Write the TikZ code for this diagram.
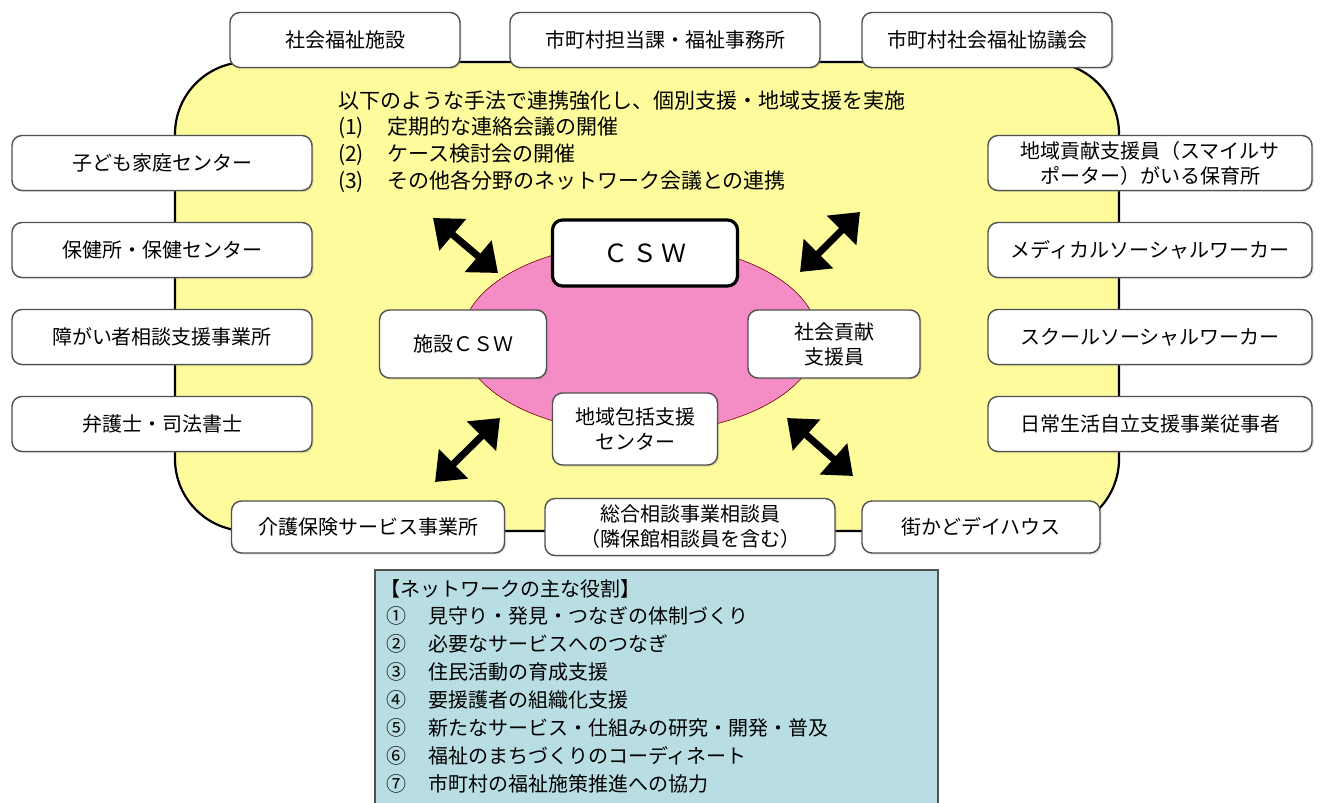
\documentclass[tikz,border=0pt]{standalone}
\usepackage{fontspec}
\setmainfont{Noto Sans CJK JP}
\usetikzlibrary{arrows.meta,shadows}
\definecolor{yel}{RGB}{253,251,155}
\definecolor{pnk}{RGB}{245,140,198}
\definecolor{blu}{RGB}{184,222,228}
\definecolor{edge}{RGB}{80,80,80}
\begin{document}
\begin{tikzpicture}[x=1pt,y=-1pt,
  box/.style={draw=edge, line width=1.4pt, fill=white, rounded corners=10pt, align=center,
    font=\fontsize{20}{25}\selectfont, inner sep=0pt,
    drop shadow={opacity=0.25,shadow xshift=1.5pt,shadow yshift=-1.5pt}},
  dbl/.style={line width=7pt, {Triangle[length=26pt,width=40pt]}-{Triangle[length=26pt,width=40pt]}},
  txt/.style={anchor=west, inner sep=0pt, font=\fontsize{21}{25}\selectfont},
  btxt/.style={anchor=west, inner sep=0pt, font=\fontsize{20}{24}\selectfont},
]
\useasboundingbox (0,0) rectangle (1326,803);
\fill[white] (0,0) rectangle (1326,803);
% yellow region
\draw[fill=yel, line width=2.2pt, rounded corners=72pt] (175,62) rectangle (1119,531);
% pink ellipse
\draw[fill=pnk, draw=red!45!black, line width=0.6pt] (640,338) ellipse [x radius=178, y radius=95];

% top row
\node[box, minimum width=230, minimum height=55] (t1) at (345,40) {社会福祉施設};
\node[box, minimum width=310, minimum height=55] (t2) at (665,40) {市町村担当課・福祉事務所};
\node[box, minimum width=250, minimum height=55] (t3) at (987,40) {市町村社会福祉協議会};
% left column
\node[box, minimum width=300, minimum height=55] (l1) at (162,163) {子ども家庭センター};
\node[box, minimum width=300, minimum height=55] (l2) at (162,250) {保健所・保健センター};
\node[box, minimum width=300, minimum height=55] (l3) at (162,337) {障がい者相談支援事業所};
\node[box, minimum width=300, minimum height=55] (l4) at (162,424) {弁護士・司法書士};
% right column
\node[box, minimum width=324, minimum height=55] (r1) at (1150,163) {地域貢献支援員（スマイルサ\\ポーター）がいる保育所};
\node[box, minimum width=324, minimum height=55] (r2) at (1150,250) {メディカルソーシャルワーカー};
\node[box, minimum width=324, minimum height=55] (r3) at (1150,337) {スクールソーシャルワーカー};
\node[box, minimum width=324, minimum height=55] (r4) at (1150,424) {日常生活自立支援事業従事者};
% bottom row
\node[box, minimum width=273, minimum height=52] (b1) at (368,527) {介護保険サービス事業所};
\node[box, minimum width=290, minimum height=57] (b2) at (690,527) {総合相談事業相談員\\（隣保館相談員を含む）};
\node[box, minimum width=238, minimum height=52] (b3) at (981,527) {街かどデイハウス};

% centre
\node[box, draw=black, line width=3.2pt, minimum width=185, minimum height=66,
  font=\fontsize{25}{28}\selectfont] (csw) at (645,253) {Ｃ\,Ｓ\,Ｗ};
\node[box, minimum width=167, minimum height=68] (fcsw) at (463,344) {施設ＣＳＷ};
\node[box, minimum width=172, minimum height=68] (shk) at (834,344) {社会貢献\\支援員};
\node[box, minimum width=165, minimum height=72] (chk) at (635,429) {地域包括支援\\センター};

% arrows
\coordinate (a1s) at (433,218); \coordinate (a1e) at (498,273);
\coordinate (a2s) at (860,212); \coordinate (a2e) at (800,272);
\coordinate (a3s) at (500,418); \coordinate (a3e) at (435,482);
\coordinate (a4s) at (787,418); \coordinate (a4e) at (853,476);
\draw[dbl] (a1s) -- (a1e);
\draw[dbl] (a2s) -- (a2e);
\draw[dbl] (a3s) -- (a3e);
\draw[dbl] (a4s) -- (a4e);

% method text
\node[txt] (m0) at (338,101) {以下のような手法で連携強化し、個別支援・地域支援を実施};
\node[txt] (m1) at (338,128) {(1)\hspace{1.1em}定期的な連絡会議の開催};
\node[txt] (m2) at (338,155) {(2)\hspace{1.1em}ケース検討会の開催};
\node[txt] (m3) at (338,182) {(3)\hspace{1.1em}その他各分野のネットワーク会議との連携};

% roles box
\draw[fill=blu, draw=edge, line width=1.5pt] (375,570) rectangle (938,810);
\node[btxt] (n0) at (380,589) {【ネットワークの主な役割】};
\node[btxt] (n1) at (386,616) {①\hspace{1.1em}見守り・発見・つなぎの体制づくり};
\node[btxt] (n2) at (386,644) {②\hspace{1.1em}必要なサービスへのつなぎ};
\node[btxt] (n3) at (386,672) {③\hspace{1.1em}住民活動の育成支援};
\node[btxt] (n4) at (386,700) {④\hspace{1.1em}要援護者の組織化支援};
\node[btxt] (n5) at (386,728) {⑤\hspace{1.1em}新たなサービス・仕組みの研究・開発・普及};
\node[btxt] (n6) at (386,756) {⑥\hspace{1.1em}福祉のまちづくりのコーディネート};
\node[btxt] (n7) at (386,784) {⑦\hspace{1.1em}市町村の福祉施策推進への協力};
\end{tikzpicture}
\end{document}
